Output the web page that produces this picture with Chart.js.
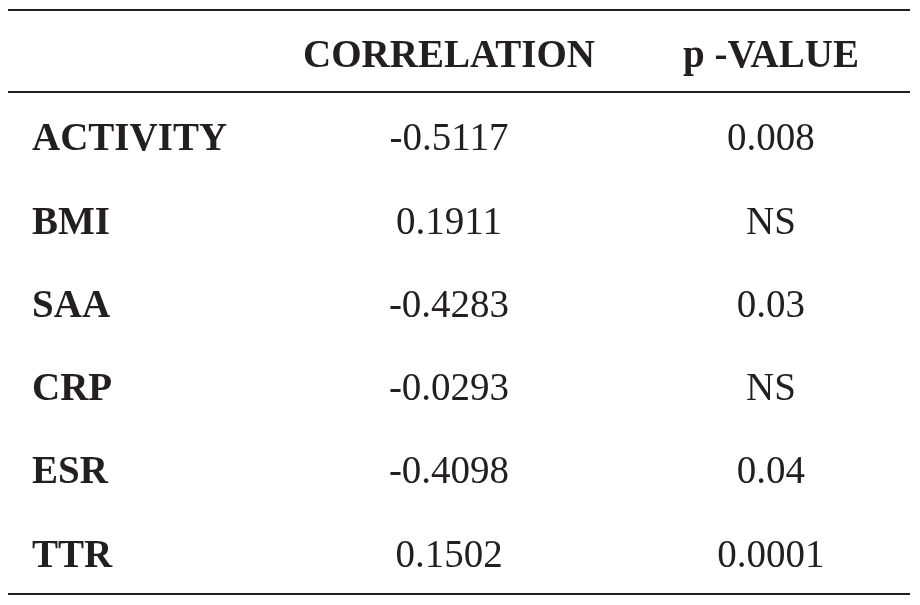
<!DOCTYPE html>
<html>
<head>
<meta charset="utf-8">
<script src="https://cdn.jsdelivr.net/npm/chart.js@4.4.1/dist/chart.umd.min.js"></script>
<style>
  html, body { margin: 0; padding: 0; background: #fff; }
  #wrap { width: 920px; height: 605px; }
</style>
</head>
<body>
<div id="wrap"><canvas id="table_chart"></canvas></div>
<script>
// table content
var headers = ["", "CORRELATION", "p -VALUE"];
var variables = ["ACTIVITY", "BMI", "SAA", "CRP", "ESR", "TTR"];
var correlation = [-0.5117, 0.1911, -0.4283, -0.0293, -0.4098, 0.1502];
var pValues = ["0.008", "NS", "0.03", "NS", "0.04", "0.0001"];

var inkColor = "#231f20";
var fontFamily = "'Liberation Serif', 'DejaVu Serif', serif";

// one point per cell: x = column index, y = row index (0 is the header row)
function cells(col, texts, bold) {
  var pts = [];
  for (var i = 0; i < texts.length; i++) {
    pts.push({ x: col, y: i + 1, text: texts[i], bold: bold });
  }
  return pts;
}

var headerCells = [];
for (var c = 1; c < headers.length; c++) {
  headerCells.push({ x: c, y: 0, text: headers[c], bold: true });
}

var datasets = [
  { label: "header", data: headerCells, align: "center" },
  { label: "variable", data: cells(-0.295, variables, true), align: "left" },
  { label: "correlation", data: cells(1, correlation.map(function (v) { return v.toFixed(4); }), false), align: "center" },
  { label: "p", data: cells(2, pValues, false), align: "center" },
];
datasets.forEach(function (d) { d.pointRadius = 0; d.showLine = false; });

var tablePlugin = {
  id: "tableText",
  afterDatasetsDraw: function (chart) {
    var ctx = chart.ctx;
    var area = chart.chartArea;
    var yScale = chart.scales.y;
    ctx.save();

    // rules: top, under header, bottom
    ctx.strokeStyle = inkColor;
    ctx.lineWidth = 2;
    [area.top, yScale.getPixelForValue(0.456), area.bottom].forEach(function (y) {
      ctx.beginPath();
      ctx.moveTo(area.left, y);
      ctx.lineTo(area.right, y);
      ctx.stroke();
    });

    ctx.fillStyle = inkColor;
    ctx.textBaseline = "alphabetic";
    chart.data.datasets.forEach(function (ds, di) {
      var meta = chart.getDatasetMeta(di);
      ctx.textAlign = ds.align;
      meta.data.forEach(function (el, i) {
        var cell = ds.data[i];
        ctx.font = (cell.bold ? "bold " : "") + "39px " + fontFamily;
        ctx.fillText(cell.text, el.x, el.y + 13);
      });
    });
    ctx.restore();
  },
};

new Chart(document.getElementById("table_chart"), {
  type: "scatter",
  data: { datasets: datasets },
  options: {
    responsive: true,
    maintainAspectRatio: false,
    animation: false,
    events: [],
    layout: { padding: { left: 8, right: 10, top: 10, bottom: 11 } },
    plugins: { legend: { display: false }, tooltip: { enabled: false } },
    scales: {
      x: { type: "linear", display: false, min: -0.3696, max: 2.4317 },
      y: { type: "linear", display: false, reverse: true, min: -0.528, max: 6.483 },
    },
  },
  plugins: [tablePlugin],
});
</script>
</body>
</html>
